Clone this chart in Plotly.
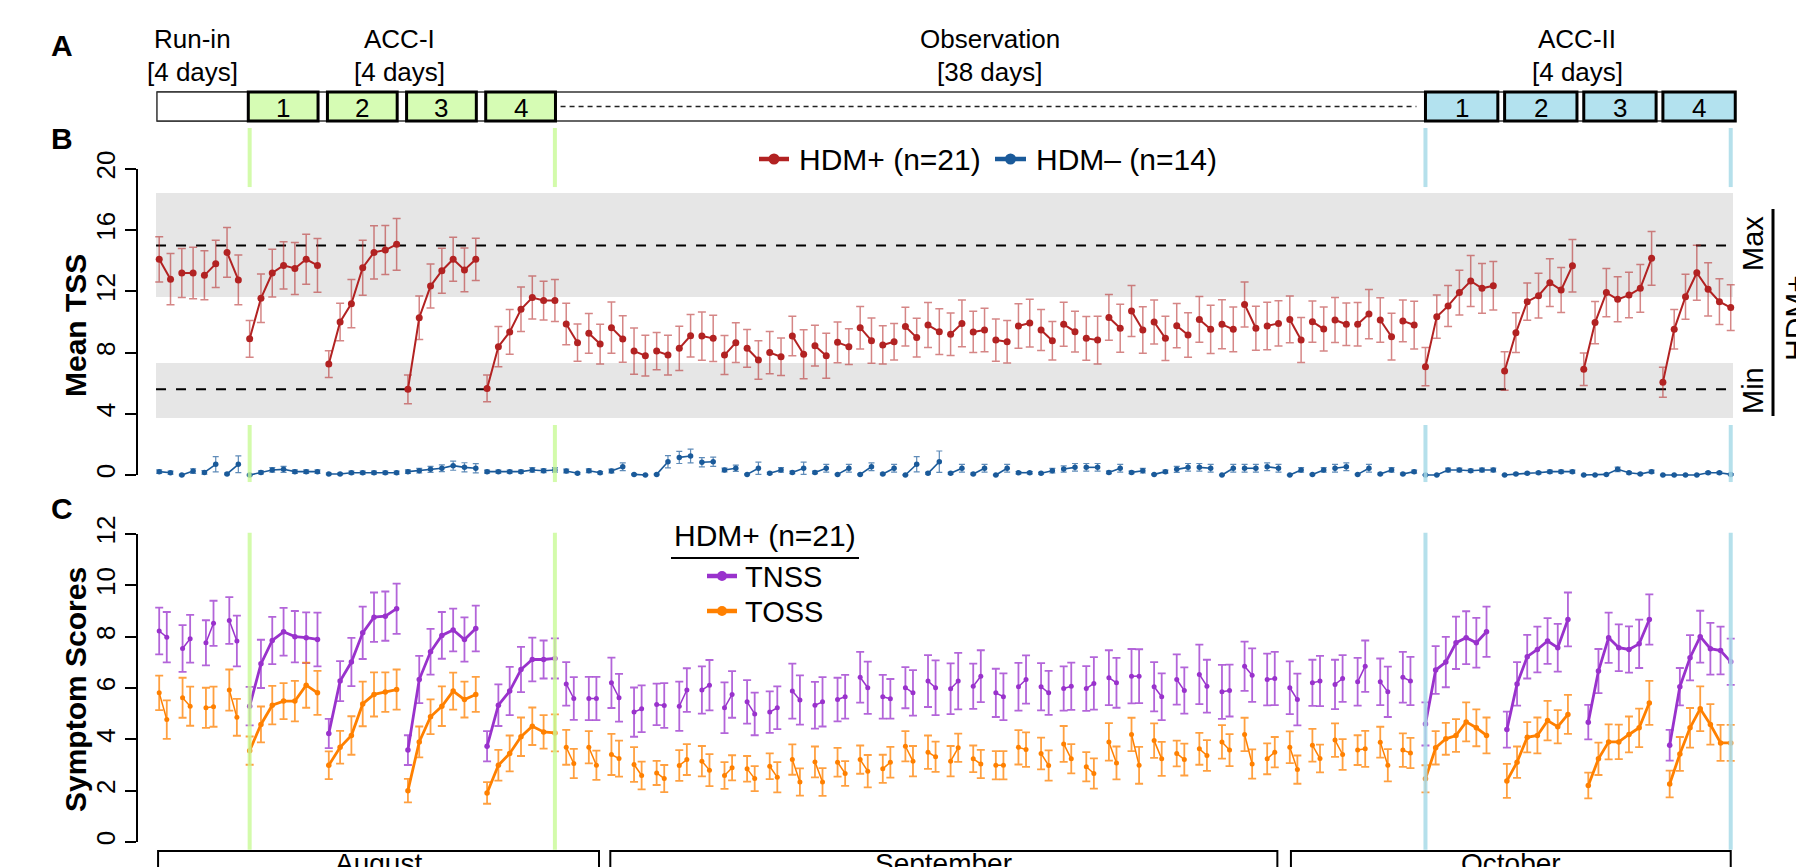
import plotly.graph_objects as go

# ---------------- DATA ----------------
# Panel B: mean TSS, HDM+ (n=21)
b_pos_runin = [14.1, 12.8, 13.2, 13.2, 13.05, 13.8, 14.55, 12.75]
b_pos_runin_se = [1.48, 1.68, 1.6, 1.68, 1.6, 1.54, 1.63, 1.63]
b_pos_acc1 = [8.9, 11.55, 13.2, 13.7, 13.5, 14.1, 13.7,
              7.25, 10.0, 11.2, 13.55, 14.55, 14.7, 15.08,
              5.6, 10.28, 12.35, 13.35, 14.1, 13.4, 14.1,
              5.66, 8.39, 9.35, 10.83, 11.6, 11.4, 11.4]
b_pos_acc1_se = [1.2, 1.58, 1.56, 1.55, 1.7, 1.63, 1.76,
                 0.87, 1.23, 1.57, 1.8, 1.74, 1.6, 1.69,
                 0.94, 1.42, 1.44, 1.47, 1.44, 1.43, 1.38,
                 0.88, 1.31, 1.46, 1.45, 1.4, 1.27, 1.37]
b_pos_obs = [9.87, 8.65, 9.26, 8.56, 9.63, 8.89, 8.1, 7.8, 8.1, 7.84,
             8.28, 9.1, 9.08, 8.93, 7.84, 8.65, 8.28, 7.52, 8.0, 7.73,
             9.08, 7.89, 8.45, 7.8, 8.67, 8.39, 9.63, 8.78, 8.5, 8.71,
             9.7, 8.98, 9.8, 9.37, 9.2, 9.91, 9.35, 9.48, 8.82, 8.71,
             9.74, 9.93, 9.48, 8.78, 9.85, 9.37, 8.93, 8.82, 10.3, 9.59,
             10.72, 9.48, 10.0, 8.93, 9.76, 9.15, 10.17, 9.52, 9.85, 9.52,
             11.15, 9.59, 9.74, 9.91, 10.17, 8.82, 10.02, 9.54, 10.13, 9.85,
             9.85, 10.52, 10.13, 9.04, 10.07, 9.8]
b_pos_obs_se = [1.36, 1.22, 1.3, 1.3, 1.67, 1.52, 1.51, 1.33, 1.22, 1.3,
                1.45, 1.39, 1.58, 1.51, 1.27, 1.3, 1.23, 1.26, 1.38, 1.23,
                1.29, 1.6, 1.33, 1.47, 1.33, 1.17, 1.39, 1.48, 1.25, 1.2,
                1.27, 1.26, 1.47, 1.5, 1.39, 1.52, 1.35, 1.42, 1.38, 1.39,
                1.46, 1.56, 1.34, 1.26, 1.44, 1.33, 1.43, 1.56, 1.49, 1.57,
                1.67, 1.52, 1.44, 1.45, 1.45, 1.46, 1.5, 1.58, 1.6, 1.46,
                1.47, 1.44, 1.55, 1.48, 1.53, 1.47, 1.35, 1.44, 1.47, 1.39,
                1.42, 1.61, 1.45, 1.53, 1.36, 1.56]
b_pos_acc2 = [7.08, 10.35, 11.05, 11.92, 12.68, 12.2, 12.37,
              6.8, 9.3, 11.33, 11.72, 12.57, 12.09, 13.68,
              6.91, 9.96, 11.92, 11.48, 11.76, 12.2, 14.16,
              6.06, 9.52, 11.65, 13.22, 12.14, 11.33, 10.94]
b_pos_acc2_se = [1.25, 1.42, 1.34, 1.46, 1.67, 1.62, 1.59,
                 1.26, 1.3, 1.22, 1.46, 1.56, 1.47, 1.72,
                 1.06, 1.38, 1.58, 1.47, 1.49, 1.56, 1.76,
                 0.98, 1.29, 1.47, 1.8, 1.74, 1.5, 1.5]

# Panel B: mean TSS, HDM- (n=14)
b_neg_runin = [0.22, 0.15, 0.0, 0.26, 0.17, 0.7, 0.07, 0.7]
b_neg_runin_se = [0.12, 0.1, 0.04, 0.15, 0.12, 0.5, 0.05, 0.55]
b_neg_acc1 = [0.0, 0.17, 0.33, 0.37, 0.22, 0.22, 0.22,
              0.07, 0.07, 0.15, 0.15, 0.15, 0.15, 0.15,
              0.22, 0.28, 0.37, 0.44, 0.61, 0.5, 0.44,
              0.22, 0.22, 0.22, 0.22, 0.33, 0.28, 0.33]
b_neg_acc1_se = [0.04, 0.1, 0.15, 0.2, 0.12, 0.12, 0.12,
                 0.05, 0.05, 0.1, 0.1, 0.1, 0.1, 0.1,
                 0.12, 0.15, 0.2, 0.22, 0.3, 0.3, 0.3,
                 0.1, 0.1, 0.1, 0.1, 0.15, 0.12, 0.15]
b_neg_obs = [0.26, 0.11, 0.28, 0.15, 0.26, 0.54, 0.04, 0.0, 0.04, 0.87,
             1.15, 1.24, 0.83, 0.87, 0.33, 0.44, 0.04, 0.44, 0.11, 0.33,
             0.17, 0.44, 0.17, 0.44, 0.04, 0.44, 0.04, 0.54, 0.07, 0.44,
             0.0, 0.7, 0.11, 0.87, 0.11, 0.44, 0.07, 0.44, 0.0, 0.44,
             0.15, 0.15, 0.11, 0.28, 0.39, 0.5, 0.5, 0.5, 0.17, 0.44,
             0.17, 0.28, 0.04, 0.22, 0.37, 0.5, 0.5, 0.44, 0.0, 0.44,
             0.44, 0.44, 0.54, 0.44, 0.0, 0.33, 0.04, 0.33, 0.44, 0.54,
             0.04, 0.44, 0.07, 0.33, 0.07, 0.22]
b_neg_obs_se = [0.12, 0.06, 0.12, 0.08, 0.12, 0.25, 0.04, 0.03, 0.04, 0.4,
                0.4, 0.45, 0.3, 0.3, 0.12, 0.2, 0.04, 0.4, 0.06, 0.15,
                0.08, 0.4, 0.08, 0.25, 0.04, 0.25, 0.04, 0.25, 0.05, 0.25,
                0.03, 0.5, 0.06, 0.7, 0.06, 0.25, 0.05, 0.25, 0.03, 0.25,
                0.08, 0.08, 0.06, 0.15, 0.2, 0.25, 0.25, 0.25, 0.08, 0.25,
                0.08, 0.15, 0.04, 0.1, 0.2, 0.25, 0.25, 0.25, 0.03, 0.25,
                0.25, 0.25, 0.25, 0.25, 0.03, 0.15, 0.04, 0.15, 0.25, 0.25,
                0.04, 0.25, 0.05, 0.15, 0.05, 0.1]
b_neg_acc2 = [0.0, 0.0, 0.33, 0.33, 0.28, 0.33, 0.33,
              0.0, 0.07, 0.11, 0.15, 0.22, 0.22, 0.22,
              0.0, 0.0, 0.04, 0.37, 0.15, 0.07, 0.22,
              0.0, 0.0, 0.0, 0.0, 0.15, 0.15, 0.04]
b_neg_acc2_se = [0.03, 0.03, 0.12, 0.12, 0.1, 0.12, 0.12,
                 0.03, 0.05, 0.07, 0.08, 0.1, 0.1, 0.1,
                 0.03, 0.03, 0.03, 0.15, 0.08, 0.05, 0.1,
                 0.03, 0.03, 0.03, 0.03, 0.08, 0.08, 0.05]

# Panel C: TNSS, HDM+ (n=21)
c_tnss_runin = [8.22, 7.98, 7.54, 7.92, 7.76, 8.52, 8.63, 7.83]
c_tnss_runin_se = [0.91, 0.98, 0.91, 0.93, 0.88, 0.88, 0.91, 0.99]
c_tnss_acc1 = [5.29, 6.94, 7.85, 8.19, 8.0, 7.96, 7.89,
               4.23, 6.27, 7.01, 8.15, 8.76, 8.8, 9.09,
               3.58, 6.33, 7.41, 8.05, 8.26, 7.89, 8.32,
               3.73, 5.33, 5.88, 6.72, 7.11, 7.11, 7.15]
c_tnss_acc1_se = [0.75, 0.94, 0.92, 0.93, 1.0, 0.99, 1.05,
                  0.57, 0.78, 0.94, 1.02, 0.96, 0.96, 0.98,
                  0.58, 0.92, 0.89, 0.91, 0.83, 0.86, 0.89,
                  0.59, 0.81, 0.94, 0.88, 0.85, 0.74, 0.78]
c_tnss_obs = [6.16, 5.59, 5.59, 5.59, 6.2, 5.62, 5.06, 5.19, 5.36, 5.32,
              5.29, 5.92, 5.92, 6.11, 5.23, 5.75, 5.46, 4.99, 5.06, 5.23,
              5.88, 5.53, 5.33, 5.46, 5.55, 5.66, 6.42, 6.01, 5.66, 5.58,
              6.01, 5.81, 6.27, 6.01, 5.97, 6.27, 6.07, 6.46, 5.81, 5.66,
              6.05, 6.33, 6.05, 5.81, 5.98, 6.07, 5.98, 6.18, 6.4, 6.2,
              6.46, 6.46, 6.05, 5.66, 6.33, 5.9, 6.53, 6.07, 5.85, 5.9,
              6.85, 6.5, 6.33, 6.37, 6.01, 5.55, 6.2, 6.27, 6.14, 6.37,
              6.24, 6.85, 6.24, 5.85, 6.42, 6.27]
c_tnss_obs_se = [0.85, 0.83, 0.84, 0.84, 0.98, 0.93, 0.96, 0.91, 0.81, 0.87,
                 0.96, 0.85, 0.92, 0.98, 0.99, 0.91, 0.85, 0.83, 0.81, 0.83,
                 1.07, 0.96, 0.91, 0.96, 0.85, 0.85, 0.99, 1.02, 0.85, 0.77,
                 0.8, 0.89, 1.01, 1.07, 0.99, 1.1, 0.88, 1.01, 0.94, 0.91,
                 0.93, 0.94, 0.92, 0.86, 0.86, 0.92, 0.87, 1.02, 1.07, 0.97,
                 1.06, 1.05, 0.96, 0.91, 0.98, 0.9, 1.16, 1.03, 1.05, 1.01,
                 0.96, 1.04, 1.01, 1.04, 1.03, 1.01, 0.9, 0.98, 0.96, 0.91,
                 0.93, 1.0, 0.91, 0.98, 0.99, 0.94]
c_tnss_acc2 = [4.6, 6.7, 7.01, 7.76, 7.96, 7.76, 8.19,
               4.38, 6.16, 7.22, 7.5, 7.83, 7.57, 8.67,
               4.67, 6.66, 7.96, 7.57, 7.5, 7.72, 8.67,
               3.77, 6.05, 7.18, 8.0, 7.53, 7.46, 7.02]
c_tnss_acc2_se = [0.84, 0.93, 0.98, 1.02, 1.03, 0.97, 0.98,
                  0.7, 0.85, 0.85, 0.89, 0.89, 0.93, 1.05,
                  0.67, 0.86, 0.98, 0.91, 0.9, 0.94, 0.98,
                  0.6, 0.73, 0.88, 1.01, 1.01, 0.93, 0.9]

# Panel C: TOSS, HDM+ (n=21)
c_toss_runin = [5.81, 4.77, 5.62, 5.29, 5.23, 5.27, 5.92, 4.86]
c_toss_runin_se = [0.67, 0.75, 0.78, 0.76, 0.78, 0.78, 0.8, 0.72]
c_toss_acc1 = [3.56, 4.58, 5.33, 5.49, 5.49, 6.11, 5.81,
               2.99, 3.69, 4.15, 5.38, 5.75, 5.84, 5.94,
               2.0, 3.9, 4.88, 5.29, 5.88, 5.55, 5.75,
               1.91, 2.99, 3.45, 4.1, 4.51, 4.29, 4.25]
c_toss_acc1_se = [0.55, 0.7, 0.75, 0.7, 0.79, 0.88, 0.86,
                  0.54, 0.64, 0.75, 0.87, 0.86, 0.77, 0.78,
                  0.46, 0.6, 0.68, 0.77, 0.72, 0.7, 0.68,
                  0.42, 0.6, 0.7, 0.75, 0.73, 0.65, 0.72]
c_toss_obs = [3.69, 3.06, 3.69, 2.99, 3.41, 3.25, 3.02, 2.59, 2.69, 2.47,
              2.98, 3.21, 3.15, 2.8, 2.59, 2.89, 2.85, 2.47, 2.95, 2.52,
              3.21, 2.34, 3.12, 2.34, 3.11, 2.67, 3.21, 2.76, 2.85, 3.11,
              3.73, 3.15, 3.5, 3.32, 3.15, 3.67, 3.24, 3.04, 2.99, 2.99,
              3.69, 3.6, 3.45, 2.98, 3.82, 3.24, 2.93, 2.67, 3.9, 3.08,
              4.19, 2.99, 3.95, 3.24, 3.45, 3.21, 3.63, 3.37, 3.9, 3.58,
              4.19, 3.04, 3.24, 3.5, 3.69, 2.82, 3.77, 3.25, 3.97, 3.41,
              3.58, 3.63, 3.89, 2.99, 3.58, 3.47]
c_toss_obs_se = [0.68, 0.57, 0.63, 0.57, 0.8, 0.7, 0.68, 0.54, 0.47, 0.53,
                 0.6, 0.6, 0.59, 0.62, 0.52, 0.49, 0.5, 0.49, 0.5, 0.59,
                 0.59, 0.53, 0.6, 0.54, 0.56, 0.48, 0.55, 0.63, 0.55, 0.6,
                 0.59, 0.59, 0.65, 0.59, 0.59, 0.55, 0.52, 0.55, 0.55, 0.55,
                 0.67, 0.67, 0.62, 0.59, 0.7, 0.57, 0.57, 0.59, 0.73, 0.64,
                 0.65, 0.72, 0.67, 0.66, 0.5, 0.62, 0.62, 0.6, 0.65, 0.62,
                 0.65, 0.57, 0.6, 0.59, 0.62, 0.55, 0.64, 0.54, 0.65, 0.6,
                 0.58, 0.7, 0.6, 0.63, 0.65, 0.59]
c_toss_acc2 = [2.46, 3.67, 4.02, 4.15, 4.68, 4.45, 4.15,
               2.38, 3.11, 4.08, 4.15, 4.73, 4.49, 4.97,
               2.2, 3.24, 3.9, 3.9, 4.19, 4.45, 5.42,
               2.26, 3.43, 4.45, 5.19, 4.58, 3.86, 3.86]
c_toss_acc2_se = [0.53, 0.65, 0.62, 0.64, 0.76, 0.72, 0.7,
                  0.66, 0.61, 0.59, 0.7, 0.77, 0.65, 0.76,
                  0.5, 0.63, 0.68, 0.67, 0.7, 0.75, 0.86,
                  0.52, 0.66, 0.77, 0.87, 0.79, 0.7, 0.7]

phase_names = ["Run-in", "ACC-I", "Observation", "ACC-II"]
phase_days = ["[4 days]", "[4 days]", "[38 days]", "[4 days]"]
day_labels = ["1", "2", "3", "4"]
month_names = ["August", "September", "October"]
tss_ticks = [0, 4, 8, 12, 16, 20]
sym_ticks = [0, 2, 4, 6, 8, 10, 12]
norm_max, norm_min = 15.0, 5.6
band_hi = (11.63, 18.43)
band_lo = (3.73, 7.32)

# ---------------- LAYOUT GEOMETRY ----------------
W, H = 1796, 867
ML, MR = 137, 56
PWID = W - ML - MR
X0_PX, SLOT_PX = 159.2, 11.306
XR = [(ML - X0_PX) / SLOT_PX, (W - MR - X0_PX) / SLOT_PX]
FONT = "Liberation Sans, Arial, sans-serif"


def px(X):
    return (X - ML) / PWID


def py(Y):
    return 1 - Y / H


# B panel: value 0 at 475 px, 15.3 px/unit ; C panel: 0 at 842 px, 25.667 px/unit
B_TOP, B_BOT = 125, 485
C_TOP, C_BOT = 520, 852
B_RANGE = [(475 - B_BOT) / 15.3, (475 - B_TOP) / 15.3]
C_RANGE = [(842 - C_BOT) / 25.667, (842 - C_TOP) / 25.667]

# x positions (time slots)
x_runin_b = list(range(0, 8))
x_acc1 = list(range(8, 36))
x_obs_b = list(range(36, 112))
x_acc2_b = list(range(112, 140))
x_runin_c = [2.067 * p + o for p in range(4) for o in (0.0, 0.67)]
x_obs_c = [36 + 2 * p + o for p in range(38) for o in (0.0, 0.67)]
x_acc2_c = [112 + 7.2 * d + 0.9 * h for d in range(4) for h in range(7)]


def seg(xs, ys, es, g):
    X, Y, E = [], [], []
    for i in range(0, len(xs), g):
        X += list(xs[i:i + g]) + [None]
        Y += list(ys[i:i + g]) + [None]
        E += list(es[i:i + g]) + [0]
    return X, Y, E


def combine(parts):
    X, Y, E = [], [], []
    for p in parts:
        a, b, c = seg(*p)
        X += a
        Y += b
        E += c
    return X, Y, E


RED, RED_E = "#B22222", "rgba(178,34,34,0.55)"
BLUE, BLUE_E = "#1A5A9A", "rgba(26,90,154,0.7)"
PUR, PUR_E = "#9932CC", "rgba(153,50,204,0.75)"
ORA, ORA_E = "#FF8000", "rgba(255,128,0,0.75)"

fig = go.Figure()


def add(parts, color, ecolor, lw, ms, ethick, ewidth, xa, ya):
    X, Y, E = combine(parts)
    fig.add_trace(go.Scatter(
        x=X, y=Y, mode="lines+markers", xaxis=xa, yaxis=ya,
        line=dict(color=color, width=lw), marker=dict(color=color, size=ms),
        error_y=dict(type="data", array=E, visible=True, color=ecolor,
                     thickness=ethick, width=ewidth),
        showlegend=False, hoverinfo="skip", connectgaps=False))


# Panel B traces
add([(x_runin_b, b_neg_runin, b_neg_runin_se, 2), (x_acc1, b_neg_acc1, b_neg_acc1_se, 7),
     (x_obs_b, b_neg_obs, b_neg_obs_se, 2), (x_acc2_b, b_neg_acc2, b_neg_acc2_se, 7)],
    BLUE, BLUE_E, 1.6, 5.5, 1.2, 3, "x", "y")
add([(x_runin_b, b_pos_runin, b_pos_runin_se, 2), (x_acc1, b_pos_acc1, b_pos_acc1_se, 7),
     (x_obs_b, b_pos_obs, b_pos_obs_se, 2), (x_acc2_b, b_pos_acc2, b_pos_acc2_se, 7)],
    RED, RED_E, 2, 7, 1.5, 4, "x", "y")

# Panel C traces
for (ri, ris, ac1, ac1s, ob, obs_, ac2, ac2s, col, ecol) in [
        (c_tnss_runin, c_tnss_runin_se, c_tnss_acc1, c_tnss_acc1_se, c_tnss_obs, c_tnss_obs_se,
         c_tnss_acc2, c_tnss_acc2_se, PUR, PUR_E),
        (c_toss_runin, c_toss_runin_se, c_toss_acc1, c_toss_acc1_se, c_toss_obs, c_toss_obs_se,
         c_toss_acc2, c_toss_acc2_se, ORA, ORA_E)]:
    add([(x_runin_c, ri, ris, 2), (x_obs_c, ob, obs_, 2)], col, ecol, 1.5, 5, 1.8, 4, "x2", "y2")
    add([(x_acc1, ac1, ac1s, 7), (x_acc2_c, ac2, ac2s, 7)], col, ecol, 2.8, 5.5, 1.8, 4, "x2", "y2")

shapes = []
ann = []


def text(t, X, Y, size, angle=0, xanchor="center", yanchor="middle", bold=False):
    ann.append(dict(text=("<b>%s</b>" % t) if bold else t, x=px(X), y=py(Y), xref="paper",
                    yref="paper", showarrow=False, textangle=angle, xanchor=xanchor,
                    yanchor=yanchor, font=dict(family=FONT, size=size, color="black")))


# ----- Panel A: timeline -----
TT, TB = 92, 121
shapes.append(dict(type="line", xref="x", yref="paper", x0=-0.2, x1=139.4, y0=py(TT), y1=py(TT),
                   line=dict(color="#333", width=1.5)))
shapes.append(dict(type="line", xref="x", yref="paper", x0=-0.2, x1=139.4, y0=py(TB), y1=py(TB),
                   line=dict(color="#333", width=1.5)))
shapes.append(dict(type="rect", xref="x", yref="paper", x0=-0.2, x1=7.87, y0=py(TB), y1=py(TT),
                   fillcolor="white", line=dict(color="#333", width=1.5)))
shapes.append(dict(type="line", xref="x", yref="paper", x0=35.5, x1=111.2, y0=py(106.5), y1=py(106.5),
                   line=dict(color="#222", width=1.5, dash="5px,4px")))
for k in range(4):
    g0 = 8 + 7 * k - 0.12
    g1 = 8 + 7 * k + 6.05
    shapes.append(dict(type="rect", xref="x", yref="paper", x0=g0, x1=g1, y0=py(TB), y1=py(TT),
                       fillcolor="#D6FCB4", line=dict(color="black", width=3)))
    b0 = 112 + 7 * k
    b1 = 112 + 7 * k + 6.4
    shapes.append(dict(type="rect", xref="x", yref="paper", x0=b0, x1=b1, y0=py(TB), y1=py(TT),
                       fillcolor="#B3E2EF", line=dict(color="black", width=3)))
    for (a0, a1) in [(g0, g1), (b0, b1)]:
        ann.append(dict(text=day_labels[k], x=(a0 + a1) / 2, xref="x", y=py(108), yref="paper",
                        xanchor="center", yanchor="middle",
                        showarrow=False, font=dict(family=FONT, size=26, color="black")))

phase_cx = [192, 399, 990, 1577]
for i in range(4):
    text(phase_names[i], phase_cx[i], 39, 26)
    text(phase_days[i], phase_cx[i], 72, 26)

text("A", 62, 45, 30, bold=True)
text("B", 62, 139, 30, bold=True)
text("C", 62, 508, 30, bold=True)

# ----- Panel B decorations -----
shapes.append(dict(type="rect", xref="x", yref="y", x0=-0.28, x1=139.2, y0=band_hi[0], y1=band_hi[1],
                   fillcolor="#E6E6E6", line=dict(width=0), layer="below"))
shapes.append(dict(type="rect", xref="x", yref="y", x0=-0.28, x1=139.2, y0=band_lo[0], y1=band_lo[1],
                   fillcolor="#E6E6E6", line=dict(width=0), layer="below"))
for v in (norm_max, norm_min):
    shapes.append(dict(type="line", xref="x", yref="y", x0=-0.28, x1=139.2, y0=v, y1=v,
                       line=dict(color="black", width=2, dash="10px,10px"), layer="below"))

GREEN_L = "rgba(200,250,150,0.8)"
BLUE_L = "rgba(168,218,232,0.85)"
for s, c in [(8, GREEN_L), (35, GREEN_L), (112, BLUE_L), (139, BLUE_L)]:
    shapes.append(dict(type="line", xref="x", yref="y", x0=s, x1=s, y0=18.82, y1=22.68,
                       line=dict(color=c, width=4)))
    shapes.append(dict(type="line", xref="x", yref="y", x0=s, x1=s, y0=-0.46, y1=3.27,
                       line=dict(color=c, width=4)))
    shapes.append(dict(type="line", xref="x2", yref="y2", x0=s, x1=s, y0=-0.3, y1=12.05,
                       line=dict(color=c, width=4)))

# spines
shapes.append(dict(type="line", xref="paper", yref="y", x0=0, x1=0, y0=0, y1=20,
                   line=dict(color="black", width=2)))
shapes.append(dict(type="line", xref="paper", yref="y2", x0=0, x1=0, y0=0, y1=12,
                   line=dict(color="black", width=2)))

text("Mean TSS", 75, 326, 30, angle=-90, bold=True)
text("Symptom Scores", 75, 690, 30, angle=-90, bold=True)


def leg_item(x0, x1, cy, col, r):
    shapes.append(dict(type="line", xref="paper", yref="paper", x0=px(x0), x1=px(x1), y0=py(cy),
                       y1=py(cy), line=dict(color=col, width=4.5)))
    cx = (x0 + x1) / 2
    shapes.append(dict(type="circle", xref="paper", yref="paper", x0=px(cx - r), x1=px(cx + r),
                       y0=py(cy + r), y1=py(cy - r), fillcolor=col, line=dict(color=col, width=0)))


# B legend
leg_item(759, 789, 159, RED, 5.5)
text("HDM+ (n=21)", 797, 160, 30, xanchor="left")
leg_item(995, 1026, 159, BLUE, 5.5)
text("HDM\u2013 (n=14)", 1034, 160, 30, xanchor="left")

# Max / Min
text("Max", 1753, 244, 29, angle=-90)
text("Min", 1753, 391, 29, angle=-90)
shapes.append(dict(type="line", xref="paper", yref="paper", x0=px(1773), x1=px(1773), y0=py(209),
                   y1=py(416), line=dict(color="black", width=3)))
text("HDM+", 1795, 318, 30, angle=-90)

# C legend
text("HDM+ (n=21)", 765, 535, 30)
shapes.append(dict(type="line", xref="paper", yref="paper", x0=px(671), x1=px(859), y0=py(558),
                   y1=py(558), line=dict(color="black", width=2)))
leg_item(707, 737, 576, PUR, 5)
text("TNSS", 743, 577, 29, xanchor="left")
leg_item(707, 737, 611, ORA, 5)
text("TOSS", 743, 612, 29, xanchor="left")

# month brackets
months = [(-0.1, 38.9), (39.9, 98.9), (100.1, 139.0)]
for (m0, m1), name in zip(months, month_names):
    shapes.append(dict(type="path", xref="x2", yref="paper",
                       path="M %f,%f L %f,%f L %f,%f L %f,%f" % (m0, py(875), m0, py(851), m1, py(851), m1, py(875)),
                       line=dict(color="black", width=2)))
    ann.append(dict(text=name, x=(m0 + m1) / 2, xref="x2", y=py(846), yref="paper", yanchor="top",
                    xanchor="center", showarrow=False, font=dict(family=FONT, size=28, color="black")))

axis_common = dict(showgrid=False, zeroline=False, showline=False, ticks="outside", ticklen=11,
                   tickwidth=2, tickcolor="black", tickangle=-90, automargin=False,
                   tickfont=dict(family=FONT, size=26, color="black"))

fig.update_layout(
    width=W, height=H, margin=dict(l=ML, r=MR, t=0, b=0),
    paper_bgcolor="white", plot_bgcolor="rgba(0,0,0,0)", showlegend=False,
    xaxis=dict(domain=[0, 1], range=XR, visible=False, anchor="y"),
    xaxis2=dict(domain=[0, 1], range=XR, visible=False, anchor="y2", matches="x"),
    yaxis=dict(domain=[py(B_BOT), py(B_TOP)], range=B_RANGE, tickvals=tss_ticks, anchor="x", **axis_common),
    yaxis2=dict(domain=[py(C_BOT), py(C_TOP)], range=C_RANGE, tickvals=sym_ticks, anchor="x2", **axis_common),
    shapes=shapes, annotations=ann,
)

fig.write_html("out.html", config={"displayModeBar": False},
               post_script="document.body.style.margin='0px';document.body.style.overflow='hidden';")
